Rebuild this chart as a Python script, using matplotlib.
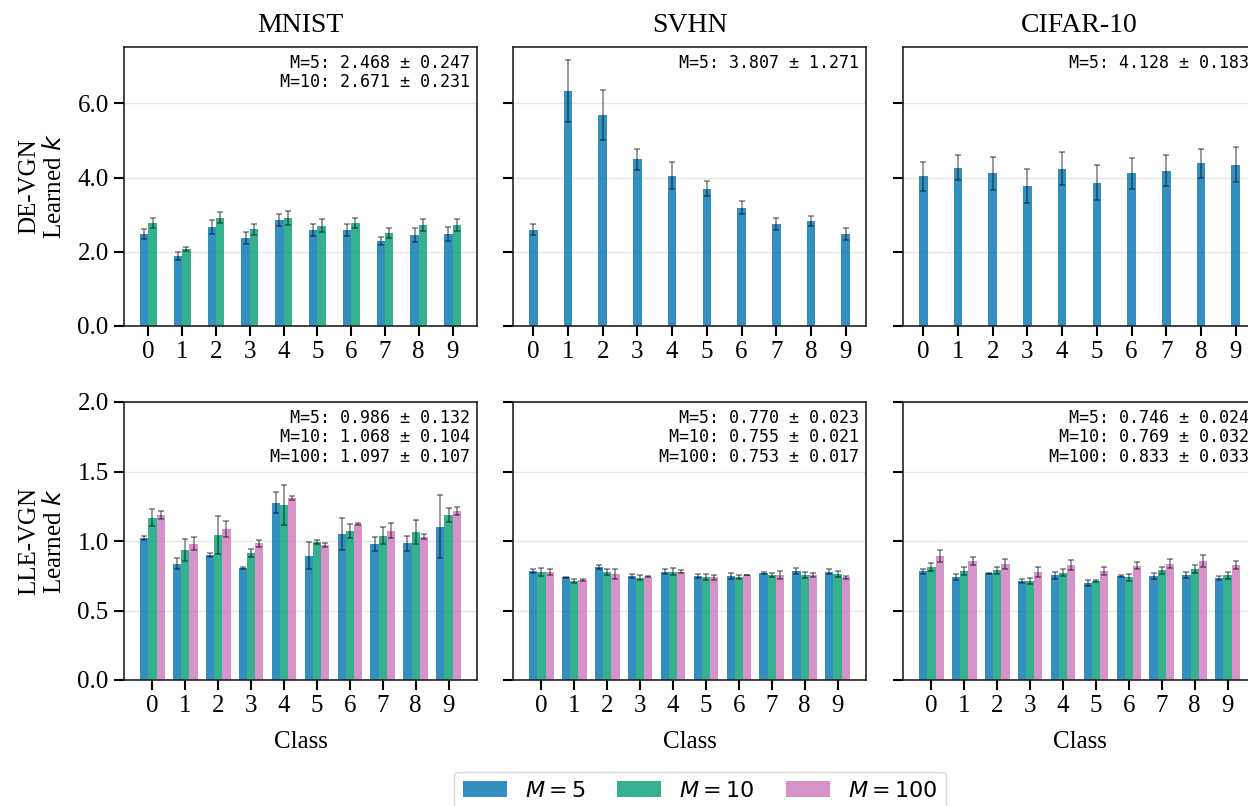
import numpy as np
import matplotlib
matplotlib.use("Agg")
import matplotlib.pyplot as plt

plt.rcParams["font.family"] = "serif"
plt.rcParams["font.serif"] = ["Liberation Serif", "DejaVu Serif"]
plt.rcParams["mathtext.fontset"] = "dejavusans"

classes = np.arange(10)
datasets = ["MNIST", "SVHN", "CIFAR-10"]
m_labels = ["$M = 5$", "$M = 10$", "$M = 100$"]
colors = ["#0173B2", "#029E73", "#CC78BC"]

# DE-VGN, learned k per class (mean, std)
de_mnist_m5 = [2.48, 1.89, 2.67, 2.37, 2.86, 2.59, 2.59, 2.29, 2.45, 2.48]
de_mnist_m5_err = [0.13, 0.11, 0.18, 0.16, 0.16, 0.17, 0.17, 0.12, 0.19, 0.18]
de_mnist_m10 = [2.78, 2.07, 2.92, 2.61, 2.92, 2.70, 2.78, 2.51, 2.72, 2.72]
de_mnist_m10_err = [0.13, 0.06, 0.15, 0.15, 0.19, 0.17, 0.13, 0.13, 0.15, 0.15]
de_svhn_m5 = [2.59, 6.33, 5.68, 4.49, 4.05, 3.70, 3.19, 2.75, 2.83, 2.48]
de_svhn_m5_err = [0.15, 0.83, 0.68, 0.29, 0.37, 0.20, 0.17, 0.16, 0.13, 0.15]
de_cifar_m5 = [4.03, 4.27, 4.11, 3.78, 4.24, 3.86, 4.11, 4.19, 4.38, 4.35]
de_cifar_m5_err = [0.40, 0.34, 0.44, 0.46, 0.45, 0.47, 0.41, 0.42, 0.40, 0.46]

# LLE-VGN, learned k per class (mean, std)
lle_mnist_m5 = [1.023, 0.838, 0.900, 0.807, 1.275, 0.893, 1.052, 0.980, 0.984, 1.102]
lle_mnist_m5_err = [0.013, 0.037, 0.017, 0.007, 0.076, 0.097, 0.116, 0.050, 0.054, 0.227]
lle_mnist_m10 = [1.169, 0.936, 1.044, 0.912, 1.258, 0.992, 1.073, 1.037, 1.066, 1.186]
lle_mnist_m10_err = [0.064, 0.080, 0.137, 0.030, 0.144, 0.013, 0.050, 0.062, 0.085, 0.050]
lle_mnist_m100 = [1.186, 0.980, 1.088, 0.984, 1.311, 0.972, 1.121, 1.073, 1.030, 1.215]
lle_mnist_m100_err = [0.030, 0.047, 0.058, 0.024, 0.013, 0.013, 0.005, 0.054, 0.019, 0.030]

lle_svhn_m5 = [0.785, 0.739, 0.814, 0.749, 0.778, 0.749, 0.749, 0.773, 0.785, 0.778]
lle_svhn_m5_err = [0.014, 0.005, 0.012, 0.014, 0.019, 0.014, 0.024, 0.007, 0.024, 0.019]
lle_svhn_m10 = [0.780, 0.711, 0.775, 0.735, 0.778, 0.739, 0.742, 0.756, 0.756, 0.763]
lle_svhn_m10_err = [0.029, 0.014, 0.022, 0.019, 0.026, 0.022, 0.012, 0.017, 0.024, 0.022]
lle_svhn_m100 = [0.775, 0.720, 0.763, 0.744, 0.778, 0.739, 0.756, 0.756, 0.756, 0.739]
lle_svhn_m100_err = [0.022, 0.005, 0.037, 0.003, 0.010, 0.017, 0.002, 0.031, 0.017, 0.010]

lle_cifar_m5 = [0.783, 0.744, 0.768, 0.713, 0.754, 0.696, 0.749, 0.749, 0.756, 0.735]
lle_cifar_m5_err = [0.019, 0.022, 0.005, 0.014, 0.026, 0.022, 0.005, 0.019, 0.019, 0.012]
lle_cifar_m10 = [0.812, 0.783, 0.790, 0.713, 0.771, 0.713, 0.739, 0.790, 0.797, 0.754]
lle_cifar_m10_err = [0.031, 0.031, 0.026, 0.024, 0.024, 0.007, 0.024, 0.026, 0.028, 0.024]
lle_cifar_m100 = [0.893, 0.855, 0.836, 0.778, 0.828, 0.785, 0.821, 0.838, 0.857, 0.828]
lle_cifar_m100_err = [0.041, 0.031, 0.036, 0.034, 0.034, 0.031, 0.026, 0.029, 0.041, 0.029]

de_summary = ["M=5: 2.468 ± 0.247\nM=10: 2.671 ± 0.231",
              "M=5: 3.807 ± 1.271",
              "M=5: 4.128 ± 0.183"]
lle_summary = ["M=5: 0.986 ± 0.132\nM=10: 1.068 ± 0.104\nM=100: 1.097 ± 0.107",
               "M=5: 0.770 ± 0.023\nM=10: 0.755 ± 0.021\nM=100: 0.753 ± 0.017",
               "M=5: 0.746 ± 0.024\nM=10: 0.769 ± 0.032\nM=100: 0.833 ± 0.033"]

de_panels = [
    [(de_mnist_m5, de_mnist_m5_err), (de_mnist_m10, de_mnist_m10_err)],
    [(de_svhn_m5, de_svhn_m5_err)],
    [(de_cifar_m5, de_cifar_m5_err)],
]
lle_panels = [
    [(lle_mnist_m5, lle_mnist_m5_err), (lle_mnist_m10, lle_mnist_m10_err),
     (lle_mnist_m100, lle_mnist_m100_err)],
    [(lle_svhn_m5, lle_svhn_m5_err), (lle_svhn_m10, lle_svhn_m10_err),
     (lle_svhn_m100, lle_svhn_m100_err)],
    [(lle_cifar_m5, lle_cifar_m5_err), (lle_cifar_m10, lle_cifar_m10_err),
     (lle_cifar_m100, lle_cifar_m100_err)],
]

W, H = 1248, 806
fig = plt.figure(figsize=(W / 100, H / 100), dpi=100)

col_left = [124, 513, 903]
ax_w = 353
row_top = [47, 402]
ax_h = [279, 278]


def make_axes(row, col, sharey=None):
    x0 = col_left[col] / W
    y0 = 1 - (row_top[row] + ax_h[row]) / H
    return fig.add_axes([x0, y0, ax_w / W, ax_h[row] / H], sharey=sharey)


def draw_bars(ax, series, width=0.25):
    n = len(series)
    bars = []
    for j, (vals, errs) in enumerate(series):
        x = classes + (j - (n - 1) / 2) * width
        b = ax.bar(x, vals, width, yerr=errs, color=colors[j], alpha=0.8,
                   linewidth=0, label=m_labels[j],
                   error_kw=dict(ecolor="black", alpha=0.5, capsize=2,
                                 elinewidth=1.1, capthick=1.1))
        bars.append(b)
    return bars


def style_axes(ax):
    ax.grid(axis="y", color="#e6e6e6", linewidth=1)
    ax.set_axisbelow(True)
    for s in ax.spines.values():
        s.set_linewidth(1.2)
        s.set_color("#222222")
    ax.tick_params(direction="out", length=7, width=1.5, labelsize=18, pad=4)
    ax.set_xticks(classes)


handles = None
for row, panels, summary, name in [(0, de_panels, de_summary, "DE-VGN"),
                                   (1, lle_panels, lle_summary, "LLE-VGN")]:
    first = None
    for col, series in enumerate(panels):
        ax = make_axes(row, col, sharey=first)
        if first is None:
            first = ax
        bars = draw_bars(ax, series)
        if len(bars) == 3:
            handles = bars
        style_axes(ax)
        ax.text(0.98, 0.975, summary[col], transform=ax.transAxes,
                ha="right", va="top", family="DejaVu Sans Mono",
                fontsize=12, linespacing=1.1)
        if row == 0:
            ax.set_title(datasets[col], fontsize=20, pad=11)
        else:
            ax.set_xlabel("Class", fontsize=18, labelpad=10)
        if col == 0:
            ax.set_ylabel(name + "\nLearned $k$", fontsize=18, labelpad=8)
        else:
            ax.tick_params(labelleft=False)
    if row == 0:
        first.set_yticks([0, 2, 4, 6])
    else:
        first.set_ylim(0, 2.0)
        first.set_yticks([0, 0.5, 1.0, 1.5, 2.0])
    first.yaxis.set_major_formatter(plt.FormatStrFormatter("%.1f"))

fig.legend(handles, m_labels, loc="upper center", ncol=3,
           bbox_to_anchor=(700 / W, 1 - 772 / H), borderaxespad=0,
           prop={"family": "DejaVu Sans", "size": 16},
           frameon=True, edgecolor="#d0d0d0", fancybox=True,
           columnspacing=1.4)

fig.savefig("out.png", dpi=100)
